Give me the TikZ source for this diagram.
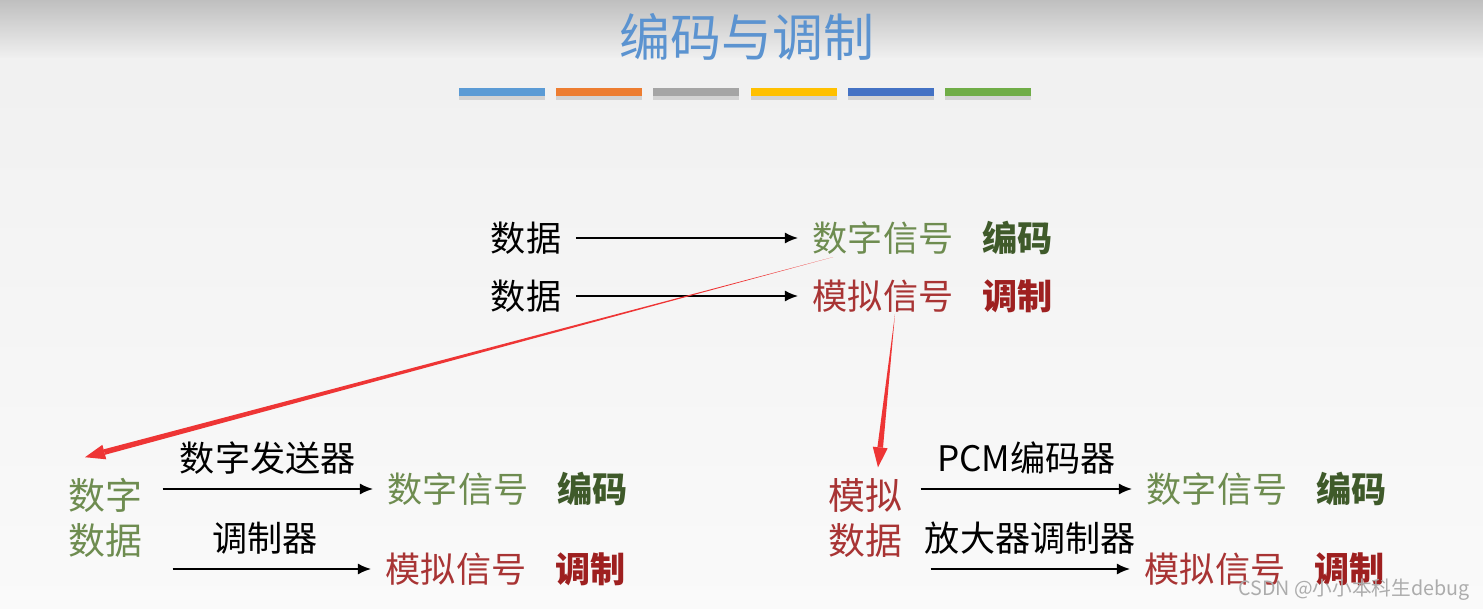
\documentclass[tikz,border=0pt]{standalone}
\usepackage{fontspec}
\setmainfont{Noto Sans CJK SC}
\usetikzlibrary{arrows.meta,positioning,calc}
\definecolor{tblue}{HTML}{5B93D0}
\definecolor{sgreen}{HTML}{6E8C50}
\definecolor{dgreen}{HTML}{3F5A2A}
\definecolor{sred}{HTML}{A83434}
\definecolor{dred}{HTML}{9E2020}
\definecolor{pred}{HTML}{EE3535}
\definecolor{bara}{HTML}{5B9BD5}
\definecolor{barb}{HTML}{ED7D31}
\definecolor{barc}{HTML}{A5A5A5}
\definecolor{bard}{HTML}{FFC000}
\definecolor{bare}{HTML}{4472C4}
\definecolor{barf}{HTML}{70AD47}

\begin{document}
\begin{tikzpicture}[x=0.1mm, y=-0.1mm,
    txt/.style={font=\fontsize{10}{12}\selectfont, inner sep=4pt},
    lbl/.style={txt, black},
    dsig/.style={txt, text=sgreen},
    asig/.style={txt, text=sred},
    denc/.style={txt, text=dgreen, font=\fontsize{10}{12}\selectfont\bfseries},
    amod/.style={txt, text=dred, font=\fontsize{10}{12}\selectfont\bfseries},
    src/.style={txt, font=\fontsize{10.5}{13}\selectfont, align=center},
    arr/.style={-{Latex[length=1.3mm, width=1.1mm]}, line width=0.45pt}
]
    % Background
    \useasboundingbox (0,0) rectangle (1483,609);
    \fill[top color=gray!12, bottom color=gray!4] (0,0) rectangle (1483,609);
    \fill[top color=gray!50, bottom color=gray!12] (0,0) rectangle (1483,58);

    % Title
    \node[font=\fontsize{14.5}{16}\selectfont, text=tblue] (title) at (747,37) {编码与调制};
    \foreach \c [count=\i] in {bara,barb,barc,bard,bare,barf} {
        \fill[black, opacity=0.12] (459+97.2*\i-97.2, 91) rectangle ++(86,9);
        \fill[\c] (459+97.2*\i-97.2, 88) rectangle ++(86,8);
    }

    % Top rows
    \node[lbl] (d1) at (526,238) {数据};
    \node[dsig] (s1) at (883,238) {数字信号};
    \node[denc, right=0pt of s1] (e1) {编码};
    \node[lbl] (d2) at (526,296) {数据};
    \node[asig] (s2) at (883,296) {模拟信号};
    \node[amod, right=0pt of s2] (m1) {调制};
    \draw[arr] (d1) -- (s1);
    \draw[arr] (d2) -- (s2);

    % Digital data
    \node[src, text=sgreen] (dd) at (105,518) {数字\\数据};
    \node[dsig] (ds2) at (458,489) {数字信号};
    \node[denc, right=0pt of ds2] (e2) {编码};
    \node[asig] (as2) at (456,569) {模拟信号};
    \node[amod, right=0pt of as2] (m2) {调制};
    \draw[arr] ($(dd.east |- ds2.west)+(6,0)$) -- (ds2.west) node[lbl, midway, above] {数字发送器};
    \draw[arr] ($(dd.east |- as2.west)+(16,0)$) -- (as2.west) node[lbl, midway, above, xshift=-2pt] {调制器};

    % Analog data
    \node[src, text=sred] (ad) at (865,518) {模拟\\数据};
    \node[dsig] (ds3) at (1217,489) {数字信号};
    \node[denc, right=0pt of ds3] (e3) {编码};
    \node[asig] (as3) at (1215,569) {模拟信号};
    \node[amod, right=0pt of as3] (m3) {调制};
    \draw[arr] ($(ad.east |- ds3.west)+(4,0)$) -- (ds3.west) node[lbl, midway, above] {PCM编码器};
    \draw[arr] ($(ad.east |- as3.west)+(14,0)$) -- (as3.west) node[lbl, midway, above] {放大器调制器};

    % Red pointers
    \coordinate (p1a) at ([shift={(-50,-12)}]s1.south);
    \coordinate (p1b) at ([shift={(-20,-6)}]dd.north);
    \coordinate (p2a) at ([shift={(12,-13)}]s2.south);
    \coordinate (p2b) at ([shift={(13,4)}]ad.north);
    \foreach \a/\b in {p1a/p1b, p2a/p2b} {
        \coordinate (q) at ($(\b)!2mm!(\a)$);
        \fill[pred] (\a) -- ($(q)!0.28mm!90:(\b)$) -- ($(q)!0.28mm!-90:(\b)$) -- cycle;
        \fill[pred] (\b) -- ($(q)!0.75mm!90:(\b)$) -- ($(q)!0.75mm!-90:(\b)$) -- cycle;
    }

    % Watermark
    \node[font=\fontsize{5.6}{7}\selectfont, text=gray!65] (wm) at (1354,590) {CSDN @小小本科生debug};
\end{tikzpicture}
\end{document}
